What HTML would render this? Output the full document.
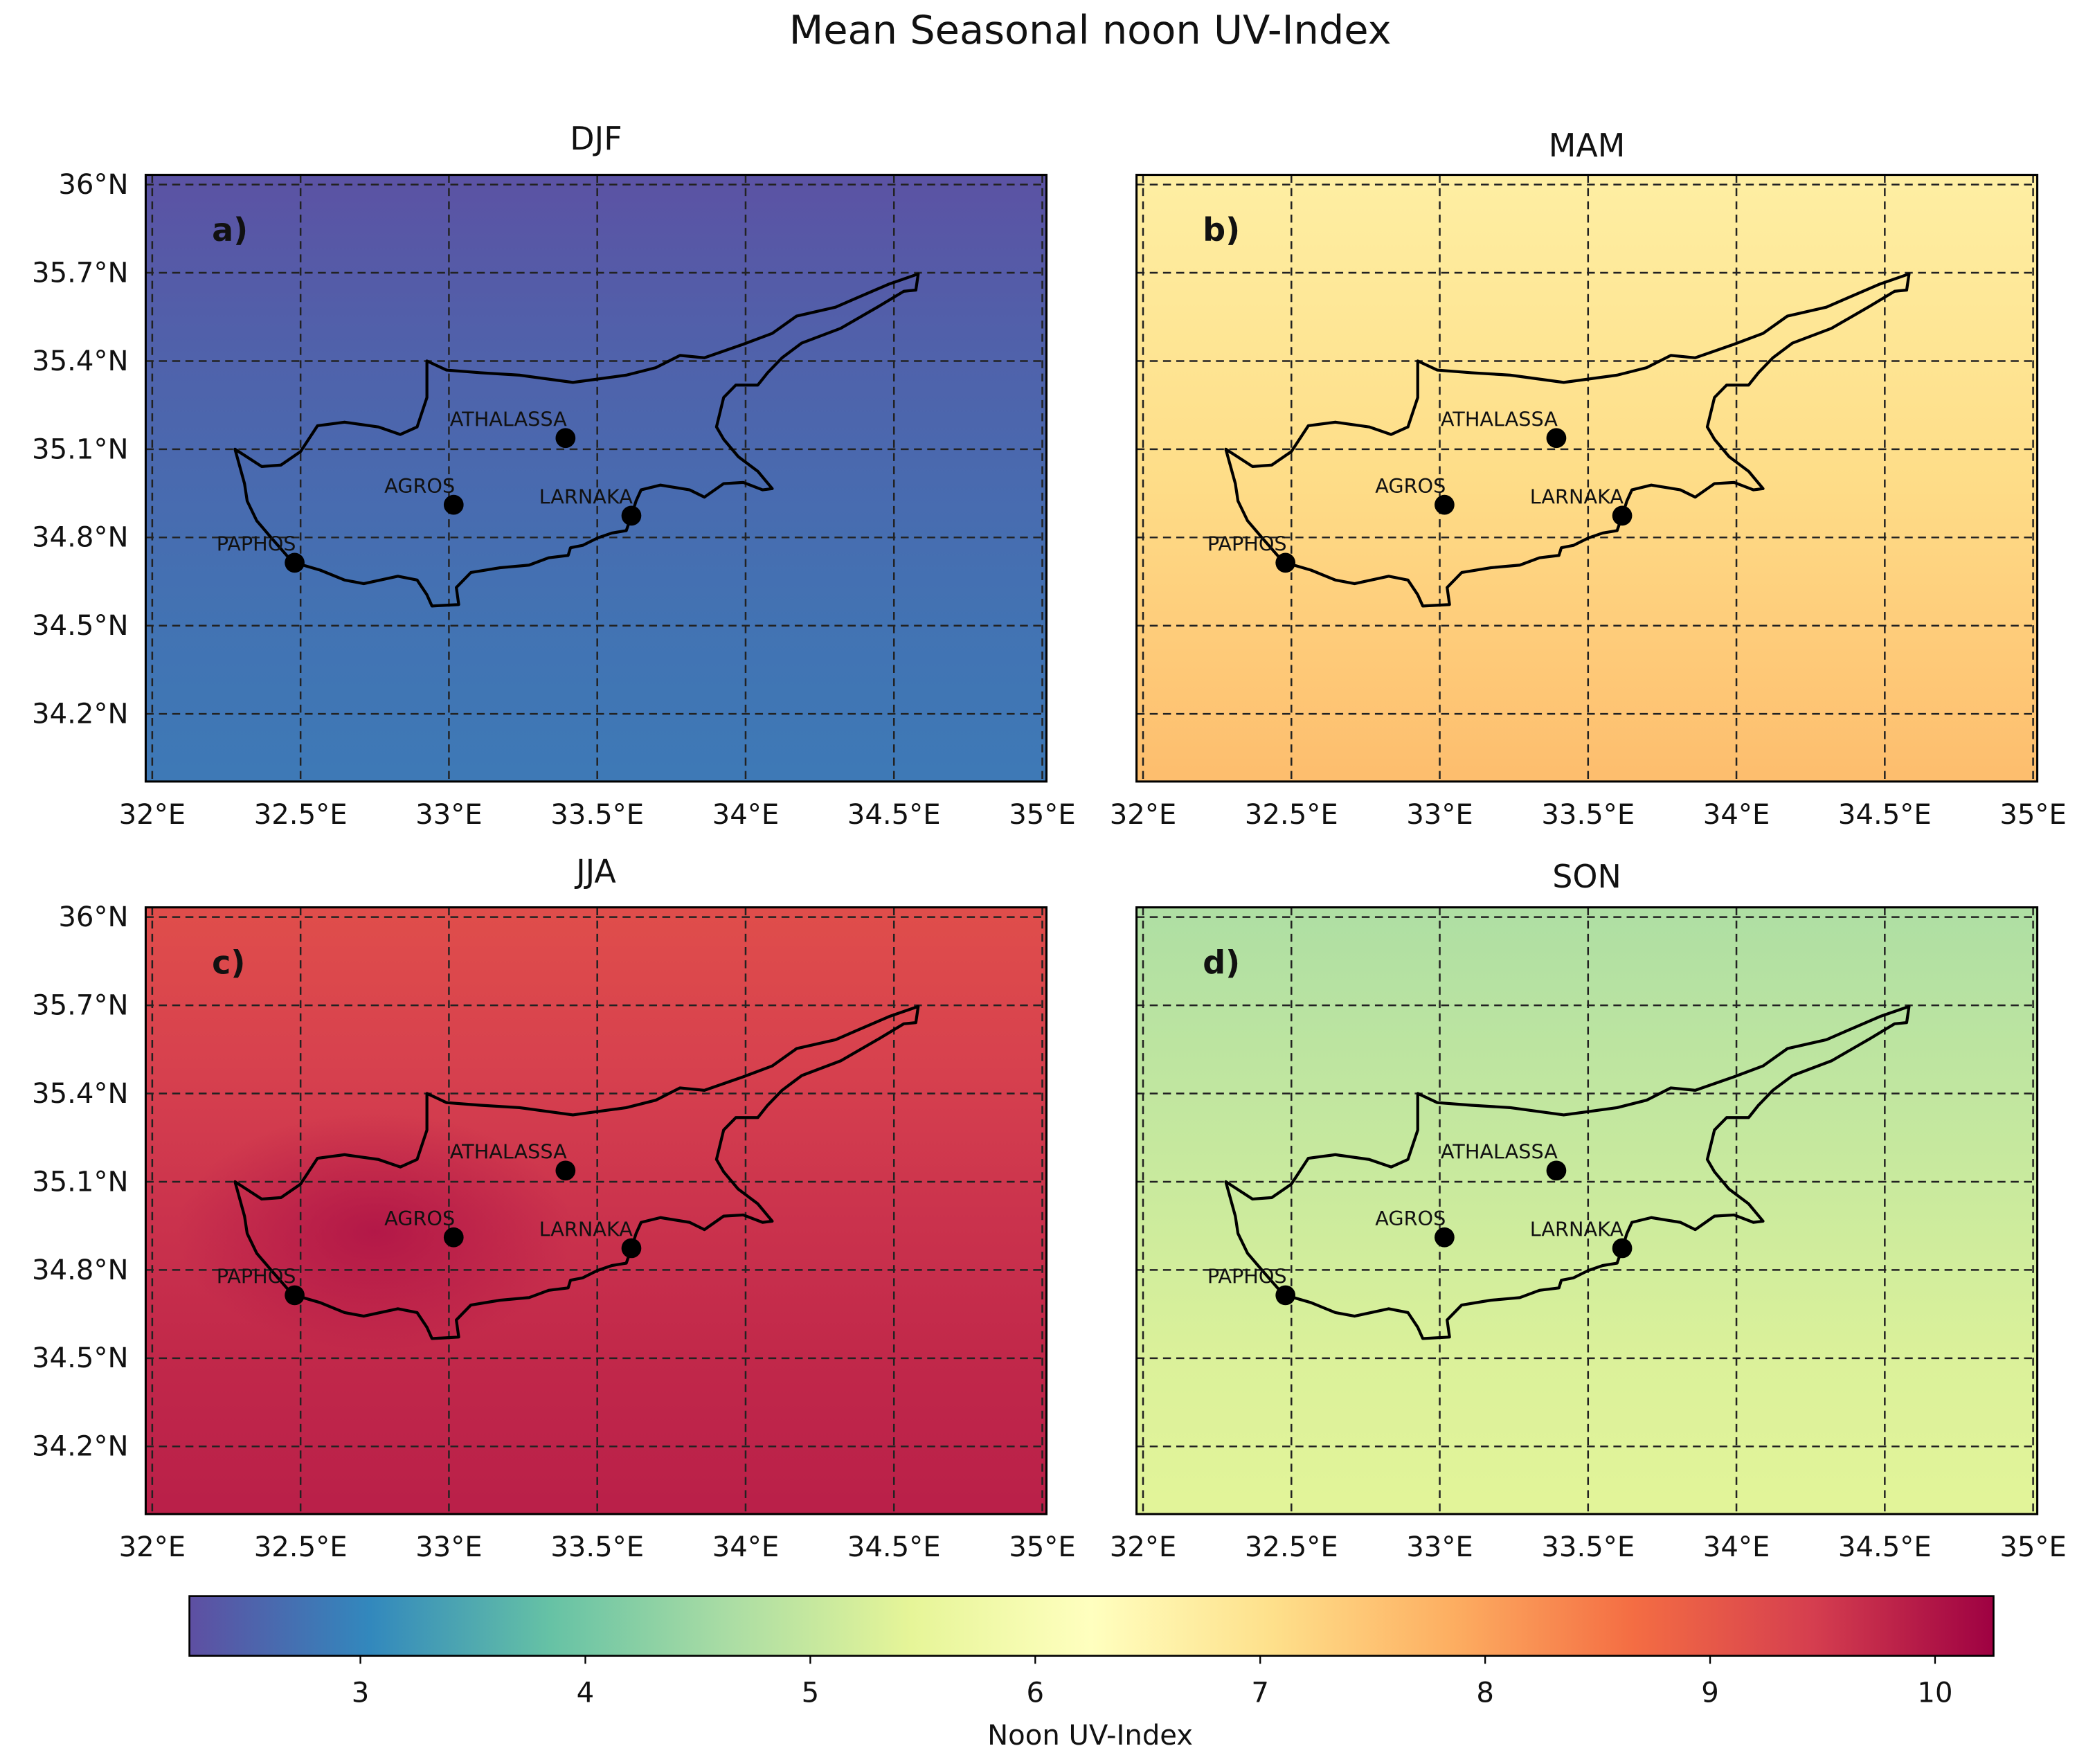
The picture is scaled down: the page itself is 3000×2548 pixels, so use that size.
<!DOCTYPE html>
<html><head><meta charset="utf-8"><style>
html,body{margin:0;padding:0;background:#fff}
svg{display:block;font-family:"DejaVu Sans","Liberation Sans",sans-serif}
</style></head><body>
<svg id="fig" width="3000" height="2548" viewBox="0 0 1568 1331.7" preserveAspectRatio="none" xmlns="http://www.w3.org/2000/svg">
<defs id="defs"></defs>
<text x="823" y="33" font-size="30" text-anchor="middle" fill="#111">Mean Seasonal noon UV-Index</text>
<g id="panels"></g>
<g id="cbar"></g>
</svg>
<script>
// ---- data ----
const seasons = ["DJF","MAM","JJA","SON"];
const panelLetters = ["a)","b)","c)","d)"];
const rowLats = [36.0, 35.5, 35.0, 34.5, 34.0];
const djfRows = [2.3, 2.48, 2.62, 2.75, 2.83];
const mamRows = [6.7, 6.9, 7.1, 7.35, 7.6];
const jjaRows = [9.2, 9.4, 9.6, 9.75, 9.85];
const sonRows = [4.7, 4.9, 5.1, 5.3, 5.4];
const lonTicks = [32, 32.5, 33, 33.5, 34, 34.5, 35];
const lonTickLabels = ["32°E","32.5°E","33°E","33.5°E","34°E","34.5°E","35°E"];
const latTicks = [36, 35.7, 35.4, 35.1, 34.8, 34.5, 34.2];
const latTickLabels = ["36°N","35.7°N","35.4°N","35.1°N","34.8°N","34.5°N","34.2°N"];
const cbarTicks = [3,4,5,6,7,8,9,10];
const stationNames = ["ATHALASSA","AGROS","LARNAKA","PAPHOS"];
const stationLon = [33.393, 33.016, 33.615, 32.480];
const stationLat = [35.138, 34.911, 34.874, 34.714];
const coastLon = [32.279,32.369,32.434,32.5,32.557,32.648,32.762,32.836,32.893,32.926,32.926,32.992,33.107,33.238,33.418,33.598,33.697,33.779,33.861,33.992,34.090,34.172,34.303,34.369,34.484,34.582,34.574,34.533,34.451,34.320,34.189,34.123,34.074,34.041,33.967,33.926,33.902,33.926,33.975,34.041,34.090,34.057,33.992,33.926,33.861,33.811,33.713,33.648,33.631,33.615,33.598,33.549,33.5,33.451,33.410,33.402,33.336,33.270,33.172,33.074,33.025,33.033,32.943,32.926,32.893,32.828,32.713,32.648,32.566,32.508,32.467,32.402,32.352,32.320,32.311];
const coastLat = [35.100,35.041,35.046,35.092,35.180,35.192,35.176,35.150,35.176,35.276,35.400,35.369,35.360,35.352,35.327,35.352,35.377,35.419,35.411,35.457,35.494,35.553,35.583,35.612,35.662,35.696,35.641,35.637,35.587,35.511,35.461,35.411,35.360,35.318,35.318,35.276,35.176,35.134,35.075,35.025,34.966,34.962,34.987,34.983,34.937,34.962,34.978,34.962,34.924,34.874,34.823,34.815,34.798,34.773,34.765,34.739,34.731,34.706,34.697,34.681,34.630,34.572,34.567,34.605,34.655,34.668,34.643,34.655,34.689,34.706,34.723,34.798,34.857,34.924,34.983];

// ---- helpers ----
const NS="http://www.w3.org/2000/svg";
const vmin=2.24, vmax=10.26;
const cmap=["#5e4fa2","#3288bd","#66c2a5","#abdda4","#e6f598","#ffffbf","#fee08b","#fdae61","#f46d43","#d53e4f","#9e0142"];
function hex(h){return [1,3,5].map(i=>parseInt(h.substr(i,2),16));}
function color(v){let t=(v-vmin)/(vmax-vmin);t=Math.max(0,Math.min(1,t))*10;const i=Math.min(9,Math.floor(t)),f=t-i;const a=hex(cmap[i]),b=hex(cmap[i+1]);return "rgb("+a.map((c,k)=>Math.round(c+(b[k]-c)*f)).join(",")+")";}
function mk(tag,attrs,parent){const e=document.createElementNS(NS,tag);for(const k in attrs)e.setAttribute(k,attrs[k]);if(parent)parent.appendChild(e);return e;}
const lonMin=31.978, lonMax=35.014, latMin=33.97, latMax=36.033;
const PW=680, PH=458;
const origins=[[110,132],[858,132],[110,685],[858,685]];
const titleY=[113,118,666,670];
const rowsBySeason=[djfRows,mamRows,jjaRows,sonRows];
const defs=document.getElementById('defs');
const panels=document.getElementById('panels');

seasons.forEach((s,p)=>{
  const [ox,oy]=origins[p];
  const X=lon=>ox+(lon-lonMin)/(lonMax-lonMin)*PW;
  const Y=lat=>oy+(latMax-lat)/(latMax-latMin)*PH;
  const g=mk('g',{},panels);
  
  
  const gid='grad'+p;
  const lg=mk('linearGradient',{id:gid,x1:0,y1:0,x2:0,y2:1},defs);
  rowsBySeason[p].forEach((v,i)=>{
    const off=(latMax-rowLats[i])/(latMax-latMin);
    mk('stop',{offset:Math.max(0,Math.min(1,off)),'stop-color':color(v)},lg);
  });
  const bg=mk('rect',{x:ox,y:oy,width:PW,height:PH,fill:'url(#'+gid+')'},g);
  
  
  if(s==="JJA"){
    const rg=mk('radialGradient',{id:'hot',cx:0.5,cy:0.5,r:0.5},defs);
    mk('stop',{offset:0,'stop-color':color(10.1),'stop-opacity':0.7},rg);
    mk('stop',{offset:1,'stop-color':color(10.1),'stop-opacity':0},rg);
    const hot=mk('ellipse',{cx:X(32.75),cy:Y(34.93),rx:150,ry:90,fill:'url(#hot)'},g);
    
    
  }
  lonTicks.forEach(l=>{mk('line',{x1:X(l),x2:X(l),y1:oy,y2:oy+PH,stroke:'#222','stroke-width':1.3,'stroke-dasharray':'6,4'},g);});
  latTicks.forEach(l=>{mk('line',{x1:ox,x2:ox+PW,y1:Y(l),y2:Y(l),stroke:'#222','stroke-width':1.3,'stroke-dasharray':'6,4'},g);});
  const d=coastLon.map((l,i)=>(i?'L':'M')+X(l).toFixed(1)+','+Y(coastLat[i]).toFixed(1)).join('')+'Z';
  const coast=mk('path',{d:d,fill:'none',stroke:'#000','stroke-width':2.2,'stroke-linejoin':'round'},g);
  
  
  stationNames.forEach((n,i)=>{
    const c=mk('circle',{cx:X(stationLon[i]),cy:Y(stationLat[i]),r:7.5,fill:'#000'},g);
    
    
    const t=mk('text',{x:X(stationLon[i])+1,y:Y(stationLat[i])-9,'font-size':15,'text-anchor':'end',fill:'#111'},g);
    t.textContent=n;
    
    
  });
  const fr=mk('rect',{x:ox,y:oy,width:PW,height:PH,fill:'none',stroke:'#000','stroke-width':1.6},g);
  
  
  const pl=mk('text',{x:ox+50,y:oy+50,'font-size':24,'font-weight':'bold',fill:'#111'},g);
  pl.textContent=panelLetters[p];
  
  
  const tt=mk('text',{x:ox+PW/2,y:titleY[p],'font-size':24,'text-anchor':'middle',fill:'#111'},g);
  tt.textContent=s;
  
  
  lonTicks.forEach((l,i)=>{
    const t=mk('text',{x:X(l),y:oy+PH+32,'font-size':21,'text-anchor':'middle',fill:'#111'},g);
    t.textContent=lonTickLabels[i];
    
    
  });
  if(p%2===0){
    latTicks.forEach((l,i)=>{
      const t=mk('text',{x:ox-13,y:Y(l)+7,'font-size':21,'text-anchor':'end',fill:'#111'},g);
      t.textContent=latTickLabels[i];
      
      
    });
  }
});

// colorbar
const cb=document.getElementById('cbar');


const cx0=143,cx1=1505,cy0=1205,cy1=1250;
const CX=v=>cx0+(v-vmin)/(vmax-vmin)*(cx1-cx0);
const cg=mk('linearGradient',{id:'cbg',x1:0,y1:0,x2:1,y2:0},defs);
cmap.forEach((c,i)=>mk('stop',{offset:i/10,'stop-color':c},cg));
mk('rect',{x:cx0,y:cy0,width:cx1-cx0,height:cy1-cy0,fill:'url(#cbg)',stroke:'#000','stroke-width':1.4},cb);
cbarTicks.forEach(v=>{
  mk('line',{x1:CX(v),x2:CX(v),y1:cy1,y2:cy1+6,stroke:'#000','stroke-width':1.2},cb);
  const t=mk('text',{x:CX(v),y:1285,'font-size':21,'text-anchor':'middle',fill:'#111'},cb);
  t.textContent=v;
  
  
});
const cl=mk('text',{x:823,y:1317,'font-size':21,'text-anchor':'middle',fill:'#111'},cb);
cl.textContent='Noon UV-Index';


</script>
</body></html>
